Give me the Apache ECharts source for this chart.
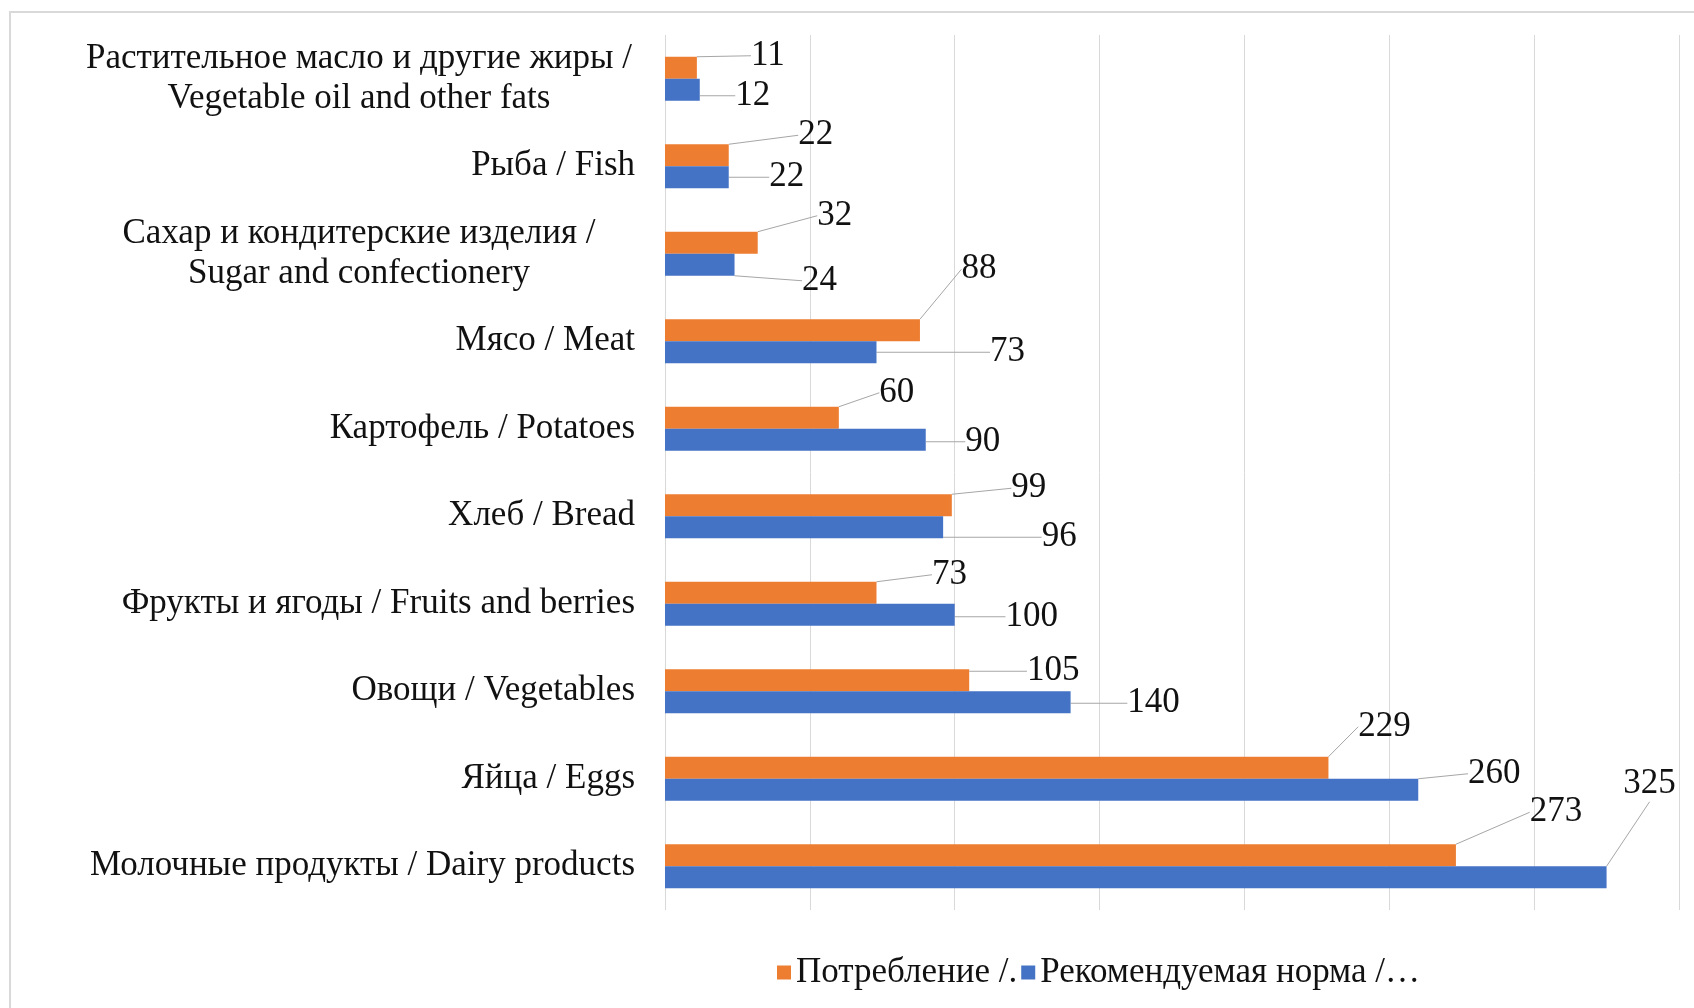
<!DOCTYPE html>
<html>
<head>
<meta charset="utf-8">
<style>
  html, body { margin: 0; padding: 0; background: #fff; }
  #chart { width: 1694px; height: 1008px; }
</style>
<script src="https://cdn.jsdelivr.net/npm/echarts@6/dist/echarts.min.js"></script>
</head>
<body>
<div id="chart"></div>
<script>
// categories, top to bottom
const categories = [
  "Растительное масло и другие жиры /\nVegetable oil and other fats",
  "Рыба / Fish",
  "Сахар и кондитерские изделия /\nSugar and confectionery",
  "Мясо / Meat",
  "Картофель / Potatoes",
  "Хлеб / Bread",
  "Фрукты и ягоды / Fruits and berries",
  "Овощи / Vegetables",
  "Яйца / Eggs",
  "Молочные продукты / Dairy products"
];
const seriesNames = ["Потребление /.", "Рекомендуемая норма /…"];
const consumption = [11, 22, 32, 88, 60, 99, 73, 105, 229, 273];
const recommended = [12, 22, 24, 73, 90, 96, 100, 140, 260, 325];

// where the callout labels sit relative to the bar end (label centre), px
const orangeShift = [[71, -12], [87, -20], [77, -27], [59, -61], [58, -25], [77, -17], [73, -18], [84, -9], [56, -41], [100, -43]];
const blueShift = [[53, 6], [58, 0], [85, 16], [131, 0], [57, 2], [116, 10], [77, 2], [83, 1], [76, -16], [43, -93]];

const FONT = "Liberation Serif";
const chart = echarts.init(document.getElementById("chart"));

function barSeries(name, data, color, shift) {
  return {
    name: name,
    type: "bar",
    data: data,
    barWidth: 22,
    barGap: "0%",
    itemStyle: { color: color },
    animation: false,
    label: {
      show: true,
      position: "right",
      distance: 0,
      color: "#111",
      fontFamily: FONT,
      fontSize: 35
    },
    labelLine: {
      show: true,
      lineStyle: { color: "#a6a6a6", width: 1 }
    },
    labelLayout: function (p) {
      const s = shift[p.dataIndex];
      return { dx: s[0] - p.labelRect.width / 2, dy: s[1] };
    }
  };
}

const option = {
  backgroundColor: "#fff",
  graphic: [{
    type: "rect",
    shape: { x: 10, y: 12, width: 1720, height: 1030 },
    style: { fill: null, stroke: "#d9d9d9", lineWidth: 2 },
    silent: true
  }],
  legend: {
    left: 772,
    top: 950,
    itemWidth: 14,
    itemHeight: 14,
    itemGap: 4,
    icon: "rect",
    textStyle: { fontFamily: FONT, fontSize: 35, color: "#111" },
    data: seriesNames
  },
  grid: { left: 665, right: 15, top: 35, bottom: 98 },
  xAxis: {
    type: "value",
    min: 0,
    max: 350,
    interval: 50,
    axisLine: { show: false },
    axisTick: { show: false },
    axisLabel: { show: false },
    splitLine: { lineStyle: { color: "#d9d9d9", width: 1 } }
  },
  yAxis: {
    type: "category",
    inverse: true,
    data: categories,
    axisLine: { show: false },
    axisTick: { show: false },
    axisLabel: {
      margin: 30,
      color: "#111",
      fontFamily: FONT,
      fontSize: 35,
      lineHeight: 40,
      formatter: function (v) {
        if (v.indexOf("\n") < 0) return v;
        return v.split("\n").map(function (l) { return "{c|" + l + "}"; }).join("\n");
      },
      rich: {
        c: { width: 552, align: "center", fontFamily: FONT, fontSize: 35, lineHeight: 40, color: "#111" }
      }
    }
  },
  series: [
    barSeries(seriesNames[0], consumption, "#ED7D31", orangeShift),
    barSeries(seriesNames[1], recommended, "#4472C4", blueShift)
  ]
};

chart.setOption(option);
</script>
</body>
</html>
